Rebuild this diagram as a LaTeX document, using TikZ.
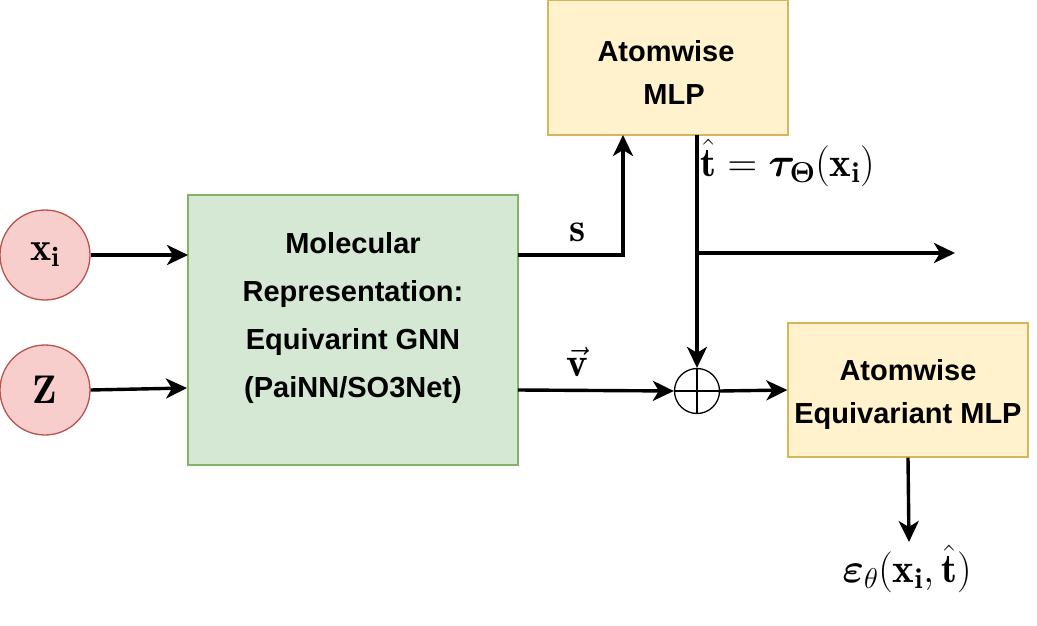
\RequirePackage{fix-cm}
\documentclass[tikz,border=0pt]{standalone}
\usepackage{amsmath,bm}
\usepackage{fontspec}
\newfontfamily\boxfont{Liberation Sans}
\usetikzlibrary{arrows.meta}
\definecolor{gfill}{HTML}{D5E8D4}
\definecolor{gdraw}{HTML}{82B366}
\definecolor{yfill}{HTML}{FFF2CC}
\definecolor{ydraw}{HTML}{D6B656}
\definecolor{rfill}{HTML}{F8CECC}
\definecolor{rdraw}{HTML}{B85450}
\begin{document}
\begin{tikzpicture}[x=1pt,y=-1pt,
  arr/.style={line width=3.4pt,-{Stealth[length=21pt,width=20pt,inset=6pt]}},
  inp/.style={circle,draw=rdraw,fill=rfill,line width=1.3pt,minimum size=90pt,inner sep=0pt,font=\fontsize{40}{44}\selectfont},
  greenbox/.style={draw=gdraw,fill=gfill,line width=1.3pt,minimum width=330pt,minimum height=270pt,inner sep=0pt},
  yellowbox/.style={draw=ydraw,fill=yfill,line width=1.3pt,minimum width=240pt,minimum height=135pt,inner sep=0pt},
  boxtext/.style={align=center,font=\boxfont\bfseries\fontsize{29}{43}\selectfont},
  gnntext/.style={align=center,font=\boxfont\bfseries\fontsize{29}{48}\selectfont},
  mathlab/.style={inner sep=0pt,font=\fontsize{41}{45}\selectfont},
  sumnode/.style={circle,draw,line width=1.3pt,minimum size=45pt,inner sep=0pt,fill=white}
]
\useasboundingbox (0,0) rectangle (1037,626);

% nodes
\node[inp] (xi) at (45,255) {$\mathbf{x}_{\mathbf{i}}$};
\node[inp] (z) at (45,390) {$\mathbf{Z}$};
\node[greenbox] (gnn) at (353,330) {};
\node[gnntext] (gnnlabel) at (353,318) {Molecular\\Representation:\\Equivarint GNN\\(PaiNN/SO3Net)};
\node[yellowbox] (mlp) at (668,67.5) {};
\node[boxtext] (mlplabel) at (666,72) {Atomwise\\\ \ MLP};
\node[yellowbox,minimum height=134pt] (emlp) at (908,390) {};
\node[boxtext] (emlplabel) at (908,394) {Atomwise\\Equivariant MLP};
\node[sumnode] (sum) at (697,391) {};
\draw[line width=1.3pt] (sum.north) -- (sum.south) (sum.west) -- (sum.east);

% labels
\node[mathlab] (slab) at (578,232) {$\mathbf{s}$};
\node[mathlab] (vlab) at (577,362) {$\vec{\mathbf{v}}$};
\node[mathlab,anchor=west] (tlab) at (700,163) {$\hat{\mathbf{t}}=\boldsymbol{\tau}_{\boldsymbol{\Theta}}(\mathbf{x}_{\mathbf{i}})$};
\node[mathlab] (elab) at (907,569) {$\boldsymbol{\varepsilon}_{\theta}(\mathbf{x}_{\mathbf{i}},\hat{\mathbf{t}})$};

% coordinates
\coordinate (sout) at (518,255);
\coordinate (scorner) at (623,255);
\coordinate (sin) at (623,135);
\coordinate (tout) at (697,135);
\coordinate (tbranch) at (697,253);
\coordinate (tend) at (955,253);
\coordinate (vout) at (518,390);
\coordinate (zin) at (187,388);
\coordinate (xin) at (188,255);
\coordinate (eend) at (909,542);

% connectors
\draw[arr] (xi.east) -- (xin);
\draw[arr] (z.east) -- (zin);
\draw[arr] (sout) -- (scorner) -- (sin);
\draw[arr] (tout) -- (sum.north);
\draw[arr] (tbranch) -- (tend);
\draw[arr] (vout) -- (sum.west);
\draw[arr] (sum.east) -- (emlp.west);
\draw[arr] (emlp.south) -- (eend);
\end{tikzpicture}
\end{document}
